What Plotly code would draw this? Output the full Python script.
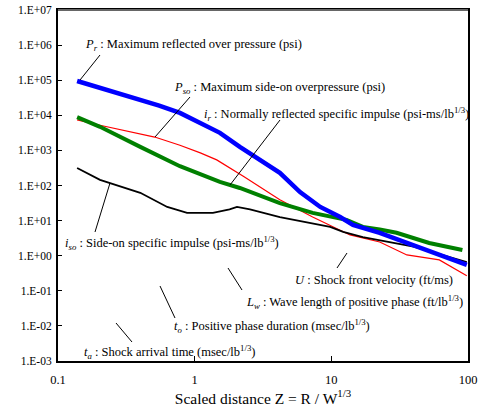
import plotly.graph_objects as go

# ---- data ----
pr_x = [0.138, 0.203, 0.30, 0.40, 0.55, 0.78, 1.09, 1.53, 2.14, 2.67, 4.2, 5.9, 8.3, 11.6, 14.4, 22.6, 50, 98]
pr_y = [9.5e4, 6.0e4, 4.0e4, 2.75e4, 1.9e4, 1.17e4, 6.0e3, 3.16e3, 1.26e3, 740, 229, 65, 24.5, 12.6, 7.5, 4.47, 1.45, 0.55]

pso_x = [0.138, 0.203, 0.51, 0.78, 1.1, 1.45, 2.3, 4.2, 7.3, 10.2, 13.7, 22.6, 35.7, 61.7, 98]
pso_y = [7.4e3, 5.2e3, 2.4e3, 1.4e3, 850, 537, 178, 39, 12.6, 6.8, 3.9, 2.45, 1.05, 0.76, 0.27]

ir_x = [0.138, 0.203, 0.40, 0.78, 1.53, 2.14, 4.2, 7.3, 12.9, 17, 22.6, 30, 52, 91]
ir_y = [8.9e3, 4.7e3, 1.26e3, 355, 126, 85, 31.6, 16.6, 10.5, 6.6, 5.6, 4.5, 2.3, 1.45]

iso_x = [0.138, 0.203, 0.40, 0.63, 0.88, 1.36, 1.8, 2.04, 2.54, 4.2, 9.8, 12.2, 17, 40, 98]
iso_y = [316, 145, 62, 24.5, 16.6, 16.6, 21, 24.5, 21, 12.6, 6.6, 4.8, 3.4, 1.8, 0.66]

x_tickvals = [0.1, 1, 10, 100]
x_ticktext = ["0.1", "1", "10", "100"]
y_tickvals = [10.0 ** k for k in range(-3, 8)]
y_ticktext = ["1.E-03", "1.E-02", "1.E-01", "1.E+00", "1.E+01", "1.E+02",
              "1.E+03", "1.E+04", "1.E+05", "1.E+06", "1.E+07"]

labels = [
    "<i>P<sub>r</sub></i> : Maximum reflected over pressure (psi)",
    "<i>P<sub>so</sub></i> : Maximum side-on overpressure (psi)",
    "<i>i<sub>r</sub></i> : Normally reflected specific impulse (psi-ms/lb<sup>1/3</sup>)",
    "<i>i<sub>so</sub></i> : Side-on specific impulse (psi-ms/lb<sup>1/3</sup>)",
    "<i>U</i> : Shock front velocity (ft/ms)",
    "<i>L<sub>w</sub></i> : Wave length of positive phase (ft/lb<sup>1/3</sup>)",
    "<i>t<sub>o</sub></i> : Positive phase duration (msec/lb<sup>1/3</sup>)",
    "<i>t<sub>a</sub></i> : Shock arrival time (msec/lb<sup>1/3</sup>)",
]

# ---- layout geometry ----
W, H = 480, 413
L, R, T, B = 58, 12, 10, 52
PW, PH = W - L - R, H - T - B


def px(x):
    return (x - L) / PW


def py(y):
    return (H - B - y) / PH


label_pos = [(83, 45), (172, 88), (202, 114), (63, 243), (293, 280), (244, 302), (172, 326), (82, 352)]
leaders = [((100, 55), (80, 80)), ((190, 97), (155, 137)), ((280, 120), (230, 185)),
           ((95, 232), (110, 183)), ((337, 268), (347, 253)), ((228, 268), (242, 290)),
           ((160, 286), (175, 318)), ((116, 323), (132, 342))]

FONT = "Liberation Serif, Times New Roman, serif"

fig = go.Figure()
fig.add_trace(go.Scatter(x=pso_x, y=pso_y, mode="lines", line=dict(color="#FF0000", width=1.2), showlegend=False))
fig.add_trace(go.Scatter(x=iso_x, y=iso_y, mode="lines", line=dict(color="#000000", width=1.8), showlegend=False))
fig.add_trace(go.Scatter(x=ir_x, y=ir_y, mode="lines", line=dict(color="#008000", width=4), showlegend=False))
fig.add_trace(go.Scatter(x=pr_x, y=pr_y, mode="lines", line=dict(color="#0000FF", width=4.5), showlegend=False))

annotations = []
for txt, (x, y) in zip(labels, label_pos):
    annotations.append(dict(text=txt, x=px(x), y=py(y), xref="paper", yref="paper",
                            xanchor="left", yanchor="middle", showarrow=False,
                            font=dict(family=FONT, size=12.5, color="black")))

shapes = []
for (a, b) in leaders:
    shapes.append(dict(type="line", xref="paper", yref="paper",
                       x0=px(a[0]), y0=py(a[1]), x1=px(b[0]), y1=py(b[1]),
                       line=dict(color="black", width=1)))
# grey top border
shapes.append(dict(type="line", xref="paper", yref="paper", x0=0, y0=1, x1=1, y1=1,
                   line=dict(color="#666666", width=2)))

fig.update_layout(
    width=W, height=H,
    margin=dict(l=L, r=R, t=T, b=B),
    paper_bgcolor="white", plot_bgcolor="white",
    font=dict(family=FONT, size=13, color="black"),
    annotations=annotations, shapes=shapes,
    xaxis=dict(type="log", range=[-1, 2], tickvals=x_tickvals, ticktext=x_ticktext,
               ticks="inside", ticklen=5, tickcolor="black", showgrid=False, zeroline=False,
               showline=True, linecolor="black", linewidth=2, mirror=True,
               ticklabelstandoff=6, automargin=False,
               tickfont=dict(family=FONT, size=12.5),
               title=dict(text="Scaled distance Z = R / W<sup>1/3</sup>",
                          font=dict(family=FONT, size=15.5), standoff=6)),
    yaxis=dict(type="log", range=[-3, 7], tickvals=y_tickvals, ticktext=y_ticktext,
               ticks="inside", ticklen=4, tickcolor="black", showgrid=False, zeroline=False,
               showline=True, linecolor="black", linewidth=2, mirror=True,
               ticklabelstandoff=2, automargin=False,
               tickfont=dict(family=FONT, size=11.5)),
)

fig.write_html("out.html", config={"displayModeBar": False},
               post_script="document.body.style.margin='0';document.body.style.padding='0';")
